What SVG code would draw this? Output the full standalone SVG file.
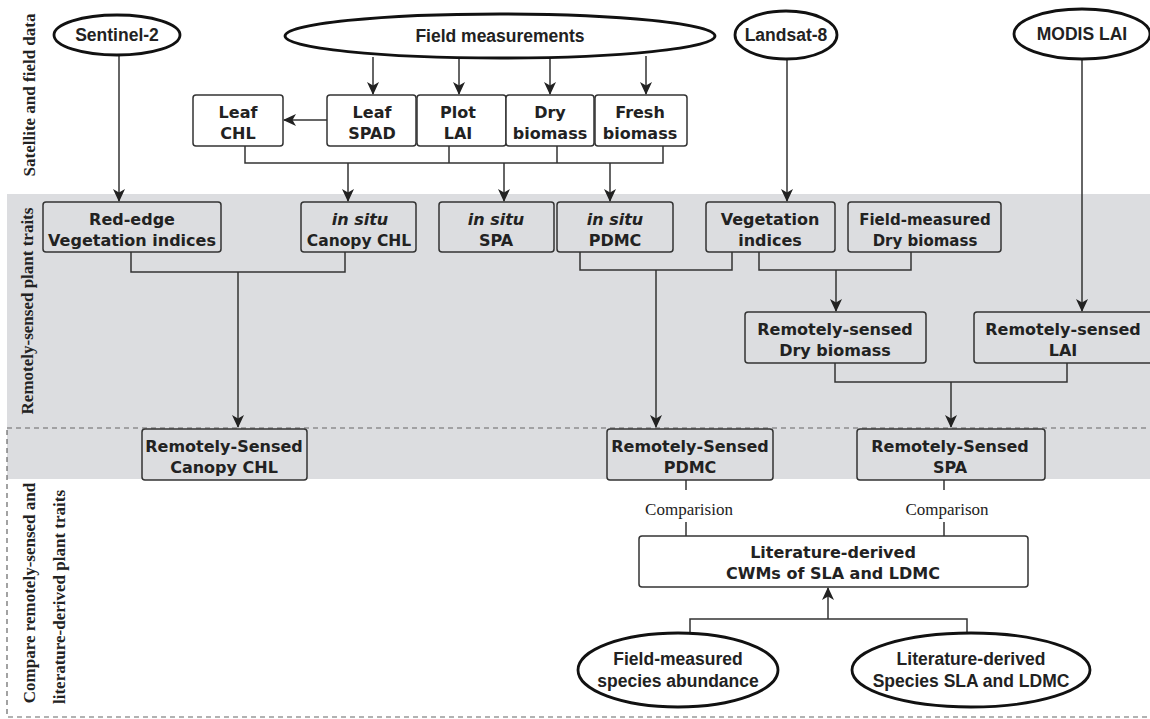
<svg xmlns="http://www.w3.org/2000/svg" width="1150" height="719" viewBox="0 0 1150 719">
<style>
.box{fill:#fff;stroke:#333;stroke-width:1.5}
.gbox{fill:#dcdde0;stroke:#333;stroke-width:1.5}
.ell{fill:#fff;stroke:#111;stroke-width:2.8}
.t{font-family:"DejaVu Sans",Verdana,sans-serif;font-weight:bold;font-size:16px;fill:#222;text-anchor:middle}
.i{font-style:italic}
.e{font-family:"Liberation Sans",Arial,sans-serif;font-weight:bold;font-size:17.5px;fill:#222;text-anchor:middle}
.side{font-family:"Liberation Serif","Times New Roman",serif;font-weight:bold;font-size:17px;fill:#222;text-anchor:middle}
.cmp{font-family:"Liberation Serif","Times New Roman",serif;font-size:17px;fill:#222;text-anchor:middle}
.ln{fill:none;stroke:#333;stroke-width:1.5}
.ar{fill:none;stroke:#333;stroke-width:1.5;marker-end:url(#ah)}
</style>
<defs>
<marker id="ah" markerUnits="userSpaceOnUse" markerWidth="13" markerHeight="13" viewBox="0 0 13 12" refX="12" refY="6" orient="auto">
<path d="M0,0 L13,6 L0,12 L3.5,6 z" fill="#222"/>
</marker>
</defs>

<!-- background zones -->
<rect x="7" y="194" width="1143" height="285" fill="#dcdde0"/>
<rect x="7" y="428" width="1150" height="289" fill="none" stroke="#666" stroke-width="1.2" stroke-dasharray="5,4"/>

<!-- side labels -->
<text class="side" transform="translate(35,95) rotate(-90)">Satellite and field data</text>
<text class="side" transform="translate(33,311) rotate(-90)">Remotely-sensed plant traits</text>
<text class="side" transform="translate(35,593) rotate(-90)">Compare remotely-sensed and</text>
<text class="side" transform="translate(65,597) rotate(-90)">literature-derived plant traits</text>

<!-- connectors -->
<g id="connectors">
<line class="ar" x1="119" y1="56" x2="119" y2="201"/>
<line class="ar" x1="373" y1="57" x2="373" y2="94"/>
<line class="ar" x1="459" y1="58" x2="459" y2="94"/>
<line class="ar" x1="550" y1="58" x2="550" y2="94"/>
<line class="ar" x1="646" y1="56" x2="646" y2="94"/>
<line class="ar" x1="327" y1="120" x2="284" y2="120"/>
<path class="ln" d="M245,146 V163 H663 V146 M449,146 V163 M557,146 V163"/>
<line class="ar" x1="348" y1="163" x2="348" y2="201"/>
<line class="ar" x1="504" y1="163" x2="504" y2="201"/>
<line class="ar" x1="610" y1="163" x2="610" y2="201"/>
<line class="ar" x1="787" y1="60" x2="787" y2="201"/>
<line class="ar" x1="1082" y1="60" x2="1082" y2="311"/>
<path class="ln" d="M131,252 V272 H345 V252"/>
<line class="ar" x1="238" y1="272" x2="238" y2="427"/>
<path class="ln" d="M580,252 V270 H732 V252"/>
<line class="ar" x1="656" y1="270" x2="656" y2="427"/>
<path class="ln" d="M759,252 V270 H911 V252"/>
<line class="ar" x1="836" y1="270" x2="836" y2="311"/>
<path class="ln" d="M835,350 V382 H1067 V350"/>
<line class="ar" x1="951" y1="382" x2="951" y2="427"/>
<line class="ln" x1="686" y1="480" x2="686" y2="490"/>
<line class="ln" x1="686" y1="522" x2="686" y2="536"/>
<line class="ln" x1="944" y1="480" x2="944" y2="490"/>
<line class="ln" x1="944" y1="522" x2="944" y2="536"/>
<path class="ln" d="M690,633 V619 H967 V633"/>
<line class="ar" x1="828" y1="619" x2="828" y2="588"/>
<text class="cmp" x="689" y="515">Comparision</text>
<text class="cmp" x="947" y="515">Comparison</text>
</g>

<!-- ellipses -->
<g id="sentinel2"><ellipse class="ell" cx="117" cy="35" rx="63" ry="20"/><text class="e" x="117" y="41">Sentinel-2</text></g>
<g id="field-measurements"><ellipse class="ell" cx="500" cy="36" rx="215" ry="22"/><text class="e" x="500" y="42">Field measurements</text></g>
<g id="landsat8"><ellipse class="ell" cx="786" cy="35" rx="51" ry="24"/><text class="e" x="786" y="41">Landsat-8</text></g>
<g id="modis-lai"><ellipse class="ell" cx="1082" cy="34" rx="68" ry="25"/><text class="e" x="1082" y="40">MODIS LAI</text></g>

<!-- row 1 -->
<g id="leaf-chl"><rect class="box" x="193" y="95" width="90" height="51" rx="3"/><text class="t" x="238" y="118">Leaf</text><text class="t" x="238" y="139">CHL</text></g>
<g id="leaf-spad"><rect class="box" x="327" y="95" width="89" height="51" rx="3"/><text class="t" x="372" y="118">Leaf</text><text class="t" x="372" y="139">SPAD</text></g>
<g id="plot-lai"><rect class="box" x="417" y="95" width="89" height="51" rx="3"/><text class="t" x="458" y="118">Plot</text><text class="t" x="458" y="139">LAI</text></g>
<g id="dry-biomass"><rect class="box" x="506" y="95" width="88" height="51" rx="3"/><text class="t" x="550" y="118">Dry</text><text class="t" x="550" y="139">biomass</text></g>
<g id="fresh-biomass"><rect class="box" x="595" y="95" width="92" height="51" rx="3"/><text class="t" x="640" y="118">Fresh</text><text class="t" x="640" y="139">biomass</text></g>

<!-- row 2 -->
<g id="red-edge"><rect class="gbox" x="43" y="202" width="178" height="50" rx="3"/><text class="t" x="132" y="225">Red-edge</text><text class="t" x="132" y="246">Vegetation indices</text></g>
<g id="insitu-chl"><rect class="gbox" x="301" y="202" width="115" height="50" rx="3"/><text class="t i" x="360" y="225">in situ</text><text class="t" x="359" y="246" style="font-size:15.5px">Canopy CHL</text></g>
<g id="insitu-spa"><rect class="gbox" x="439" y="202" width="115" height="50" rx="3"/><text class="t i" x="496" y="225">in situ</text><text class="t" x="496" y="246">SPA</text></g>
<g id="insitu-pdmc"><rect class="gbox" x="557" y="202" width="116" height="50" rx="3"/><text class="t i" x="615" y="225">in situ</text><text class="t" x="615" y="246">PDMC</text></g>
<g id="veg-indices"><rect class="gbox" x="706" y="202" width="129" height="50" rx="3"/><text class="t" x="770" y="225">Vegetation</text><text class="t" x="770" y="246">indices</text></g>
<g id="field-dry"><rect class="gbox" x="848" y="202" width="153" height="50" rx="3"/><text class="t" x="925" y="225" style="font-size:15px">Field-measured</text><text class="t" x="925" y="246" style="font-size:15px">Dry biomass</text></g>

<!-- row 3 -->
<g id="rs-dry"><rect class="gbox" x="745" y="312" width="181" height="51" rx="3"/><text class="t" x="835" y="335">Remotely-sensed</text><text class="t" x="835" y="356">Dry biomass</text></g>
<g id="rs-lai"><rect class="gbox" x="974" y="312" width="182" height="51" rx="3"/><text class="t" x="1063" y="335">Remotely-sensed</text><text class="t" x="1063" y="356">LAI</text></g>

<!-- row 4 -->
<g id="rs-chl"><rect class="gbox" x="142" y="429" width="165" height="51" rx="3"/><text class="t" x="224" y="452">Remotely-Sensed</text><text class="t" x="224" y="473">Canopy CHL</text></g>
<g id="rs-pdmc"><rect class="gbox" x="607" y="429" width="166" height="51" rx="3"/><text class="t" x="690" y="452">Remotely-Sensed</text><text class="t" x="690" y="473">PDMC</text></g>
<g id="rs-spa"><rect class="gbox" x="857" y="429" width="188" height="51" rx="3"/><text class="t" x="950" y="452">Remotely-Sensed</text><text class="t" x="950" y="473">SPA</text></g>

<!-- bottom -->
<g id="cwm"><rect class="box" x="639" y="536" width="389" height="51" rx="3"/><text class="t" x="833" y="558">Literature-derived</text><text class="t" x="833" y="579">CWMs of SLA and LDMC</text></g>
<g id="species-abundance"><ellipse class="ell" cx="678" cy="670" rx="100" ry="37"/><text class="e" x="678" y="665">Field-measured</text><text class="e" x="678" y="687">species abundance</text></g>
<g id="species-sla"><ellipse class="ell" cx="971" cy="670" rx="119" ry="37"/><text class="e" x="971" y="665">Literature-derived</text><text class="e" x="971" y="687">Species SLA and LDMC</text></g>
</svg>
